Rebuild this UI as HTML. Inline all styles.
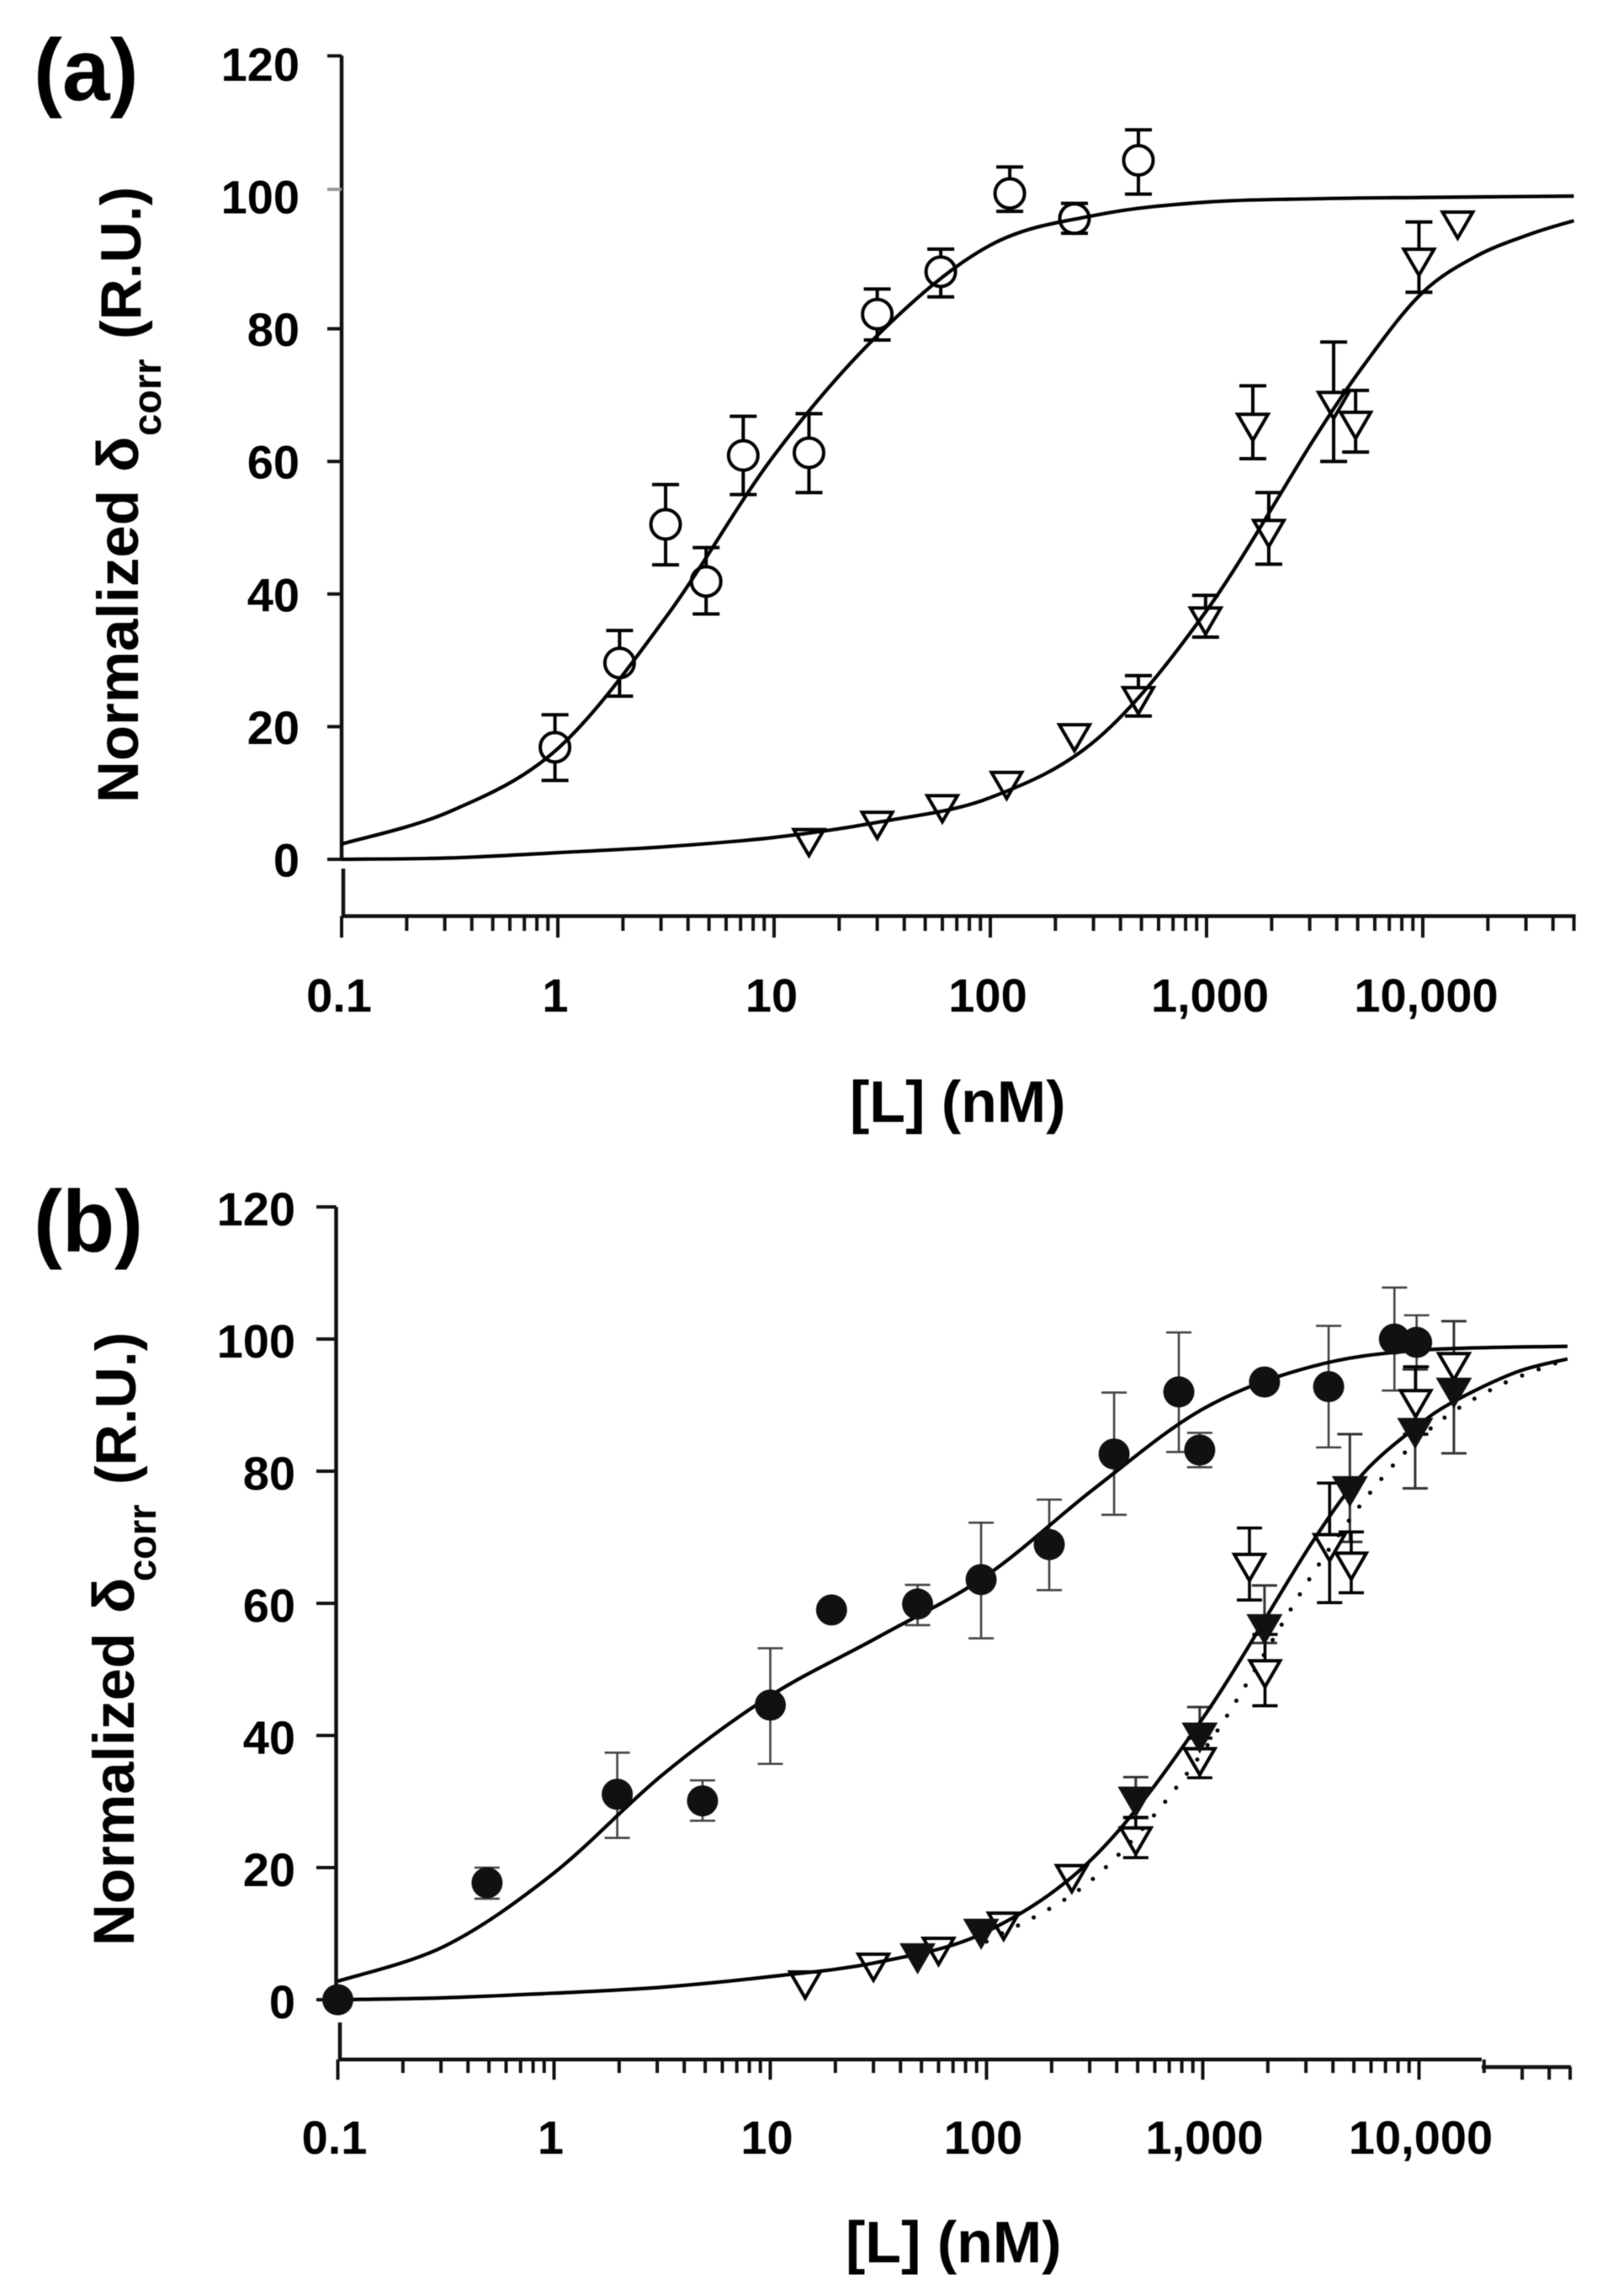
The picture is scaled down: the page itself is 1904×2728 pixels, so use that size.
<!DOCTYPE html>
<html lang="en">
<head>
<meta charset="utf-8">
<title>Normalized chemical shift binding curves</title>
<style>
html,body{margin:0;padding:0;background:#fff;}
svg{display:block;filter:blur(0.6px);}
text{font-family:"Liberation Sans",Arial,sans-serif;font-weight:700;fill:#000;}
</style>
</head>
<body>
<svg id="figure" xmlns="http://www.w3.org/2000/svg" width="1904" height="2728" viewBox="0 0 1904 2728">
<rect x="0" y="0" width="1904" height="2728" fill="#fff"/>
</svg>
<script>
// ---- shared axis data ----
const yTickValues = [120, 100, 80, 60, 40, 20, 0];
const xTickValues = [0.1, 1, 10, 100, 1000, 10000];
const xTickLabels = ['0.1', '1', '10', '100', '1,000', '10,000'];
const xMinorMultipliers = [2, 3, 4, 5, 6, 7, 8, 9];
const xMaxValue = 50000;

// ---- panel (a) data ----
const aCircleX = [0.97, 1.93, 3.15, 4.85, 7.2, 14.5, 30, 59, 123, 245, 484];
const aCircleY = [16.9, 29.6, 50.5, 41.9, 60.9, 61.3, 82.2, 88.6, 100.4, 96.6, 105.4];
const aCircleHi = [21.8, 34.5, 56.5, 47, 66.8, 67.2, 86, 92, 104.4, 98.9, 110];
const aCircleLo = [11.9, 24.6, 44.4, 37, 55, 55.3, 78.3, 84.8, 97.7, 94.4, 100.3];

const aTriX = [14.5, 30, 60, 119, 245, 484, 990, 1940, 1637, 3870, 4890, 9600, 14500];
const aTriY = [3.1, 5.7, 8.2, 11.7, 18.9, 24.5, 36.5, 49.7, 65.7, 69, 66, 90.6, 96.2];
const aTriHi = [null, null, null, null, null, 27.7, 39.8, 55.3, 71.4, 78, 70.7, 96.1, null];
const aTriLo = [null, null, null, null, null, 21.6, 33.5, 44.5, 60.4, 60, 61.4, 85.5, null];

const aFitOneX = [0.1, 0.316, 1, 3.16, 10, 31.6, 100, 316, 1000, 3160, 10000, 50000];
const aFitOneY = [2.3, 7.2, 16.7, 36.5, 60.9, 79.7, 92.6, 97.2, 99.1, 99.6, 99.8, 100];
const aFitTwoX = [0.1, 0.316, 1, 3.16, 10, 31.6, 100, 316, 1000, 3160, 5620, 10000, 17800, 31600, 50000];
const aFitTwoY = [0, 0.2, 1, 1.9, 3.3, 5.7, 9.3, 18.3, 37.5, 63.5, 75.5, 85.5, 91, 94.3, 96.3];

// ---- panel (b) data ----
const bCircleX = [0.1, 0.49, 1.96, 4.86, 10, 19.2, 48, 94.4, 195, 389, 775, 968, 1930, 3820, 7700, 9750];
const bCircleY = [0, 17.7, 31.1, 30.1, 44.6, 59, 59.9, 63.6, 68.9, 82.6, 92, 83.2, 93.5, 92.8, 100, 99.5];
const bCircleHi = [null, 20, 37.4, 33.2, 53.2, null, 62.8, 72.2, 75.7, 91.9, 101, 85.8, null, 102, 107.8, 103.6];
const bCircleLo = [null, 15.3, 24.5, 27.1, 35.7, null, 56.7, 54.7, 62, 73.4, 82.9, 80.6, null, 83.6, 92.2, 95.8];

const bFilledTriX = [48, 94.4, 490, 968, 1930, 4790, 9600, 14500];
const bFilledTriY = [6.9, 10.6, 30.6, 40.3, 56.7, 77.6, 86.4, 92.5];
const bFilledTriHi = [null, null, 33.7, 44.3, 62.7, 85.6, 95.4, 102.7];
const bFilledTriLo = [null, null, 27.5, 37.8, 54, 69.3, 77.4, 82.7];

const bOpenTriX = [14.5, 30, 60, 120, 248, 490, 968, 1940, 1644, 3860, 4860, 9650, 14500];
const bOpenTriY = [2.8, 5.5, 7.9, 11.7, 18.9, 24.6, 36.6, 49.9, 66, 69, 66.2, 90.8, 96.4];
const bOpenTriHi = [null, null, null, null, null, 27.6, 39.6, 55.3, 71.4, 78.2, 70.8, 95.8, null];
const bOpenTriLo = [null, null, null, null, null, 21.5, 33.6, 44.5, 60.5, 60.1, 61.6, 85.6, null];

const bFitOneX = [0.1, 0.316, 1, 3.16, 10, 31.6, 100, 316, 1000, 3160, 10000, 48600];
const bFitOneY = [2.8, 8.2, 19.2, 34, 46, 54.9, 64.2, 77.4, 89.4, 95.8, 98.3, 98.9];
const bFitTwoX = [0.1, 0.316, 1, 3.16, 10, 31.6, 100, 316, 1000, 3160, 5500, 9800, 14600, 28200, 48600];
const bFitTwoY = [0, 0.3, 1, 1.9, 3.5, 5.7, 10.3, 21.7, 42.6, 68.9, 79.6, 86.8, 90.6, 95, 97];
const bFitDotX = [100, 316, 1000, 3160, 6310, 11750, 23300, 46000];
const bFitDotY = [8.8, 18.5, 37.5, 64, 77.8, 86.9, 92.9, 96.7];

// ---- drawing helpers ----
const NS = 'http://www.w3.org/2000/svg';
const root = document.getElementById('figure');

function make(tag, attrs, parent) {
  const node = document.createElementNS(NS, tag);
  for (const k in attrs) node.setAttribute(k, attrs[k]);
  parent.appendChild(node);
  return node;
}
function makeXScale(x0, decade) {
  return function (v) { return x0 + decade * (Math.log10(v) + 1); };
}
function makeYScale(y0, perUnit) {
  return function (v) { return y0 - perUnit * v; };
}
function smoothPath(xs, ys, sx, sy) {
  const p = xs.map(function (v, i) { return [sx(v), sy(ys[i])]; });
  let d = 'M' + p[0][0].toFixed(1) + ' ' + p[0][1].toFixed(1);
  for (let i = 0; i < p.length - 1; i++) {
    const a = p[Math.max(i - 1, 0)], b = p[i], c = p[i + 1], e = p[Math.min(i + 2, p.length - 1)];
    const c1x = b[0] + (c[0] - a[0]) / 6, c1y = b[1] + (c[1] - a[1]) / 6;
    const c2x = c[0] - (e[0] - b[0]) / 6, c2y = c[1] - (e[1] - b[1]) / 6;
    d += 'C' + c1x.toFixed(1) + ' ' + c1y.toFixed(1) + ' ' + c2x.toFixed(1) + ' ' + c2y.toFixed(1) + ' ' + c[0].toFixed(1) + ' ' + c[1].toFixed(1);
  }
  return d;
}
function drawLabel(parent, str, x, y, size, anchor, squeeze, name) {
  const t = make('text', { transform: 'translate(' + x + ' ' + y + ') scale(' + squeeze + ' 1)', 'font-size': size, 'text-anchor': anchor }, parent);
  
  
  t.textContent = str;
  return t;
}
function drawRotated(parent, str, x, y, size, name) {
  const t = make('text', { transform: 'translate(' + x + ' ' + y + ') rotate(-90)', 'font-size': size }, parent);
  
  
  t.textContent = str;
  return t;
}
function drawFit(parent, xs, ys, sx, sy, extra, name) {
  const attrs = { d: smoothPath(xs, ys, sx, sy), fill: 'none', stroke: '#000', 'stroke-width': 4.2 };
  for (const k in extra) attrs[k] = extra[k];
  const path = make('path', attrs, parent);
  
  
}
function drawErrors(parent, xs, hi, lo, sx, sy, color, width, capHalf, name) {
  xs.forEach(function (v, i) {
    if (hi[i] === null) return;
    const g = make('g', { stroke: color, 'stroke-width': width, fill: 'none' }, parent);
    
    
    const X = sx(v);
    make('path', { d: 'M' + X + ' ' + sy(hi[i]) + 'V' + sy(lo[i]) }, g);
    make('path', { d: 'M' + (X - capHalf) + ' ' + sy(hi[i]) + 'H' + (X + capHalf) }, g);
    make('path', { d: 'M' + (X - capHalf) + ' ' + sy(lo[i]) + 'H' + (X + capHalf) }, g);
  });
}
function drawCircles(parent, xs, ys, sx, sy, filled, name) {
  xs.forEach(function (v, i) {
    const c = make('circle', {
      cx: sx(v), cy: sy(ys[i]), r: filled ? 18.5 : 17.5,
      fill: filled ? '#111' : '#fff', stroke: filled ? 'none' : '#000', 'stroke-width': 4
    }, parent);
    
    
  });
}
function drawTriangles(parent, xs, ys, sx, sy, filled, name) {
  xs.forEach(function (v, i) {
    const X = sx(v), Y = sy(ys[i]);
    const t = make('path', {
      d: 'M' + (X - 18) + ' ' + (Y - 11) + 'H' + (X + 18) + 'L' + X + ' ' + (Y + 20) + 'Z',
      fill: filled ? '#111' : '#fff', stroke: filled ? '#111' : '#000', 'stroke-width': 4, 'stroke-linejoin': 'miter'
    }, parent);
    
    
  });
}
function drawXTicks(parent, sx, axisY, minorEnd, majorEnd, stepFrom, stepDrop) {
  const ticks = [];
  xTickValues.forEach(function (dec) {
    ticks.push([dec, true]);
    xMinorMultipliers.forEach(function (m) {
      if (dec * m <= xMaxValue) ticks.push([dec * m, false]);
    });
  });
  ticks.forEach(function (t) {
    const shifted = stepFrom && t[0] > stepFrom;
    const top = axisY + (shifted ? stepDrop : 0);
    const end = shifted ? majorEnd : (t[1] ? majorEnd : minorEnd);
    const tick = make('line', { x1: sx(t[0]), x2: sx(t[0]), y1: top, y2: end, stroke: '#111', 'stroke-width': 4 }, parent);
    
    
  });
}

// ---- panel (a) ----
const panelA = make('g', {}, root);


const ax = makeXScale(406, 257);
const ay = makeYScale(1021, 7.88);

const aLetter = drawLabel(panelA, '(a)', 40, 119, 104, 'start', 0.98, 'panel-a-label');

const aAxisY = make('path', { d: 'M406 66V1021M408 1032V1090', stroke: '#111', 'stroke-width': 4.5, fill: 'none' }, panelA);


const aAxisX = make('line', { x1: 406, x2: ax(xMaxValue) + 2, y1: 1088.5, y2: 1088.5, stroke: '#111', 'stroke-width': 4.5 }, panelA);



yTickValues.forEach(function (v) {
  const shift = v === 120 ? -9 : (v === 100 ? -8 : 0);
  const tick = make('line', { x1: 389, x2: 406, y1: ay(v) + shift, y2: ay(v) + shift, stroke: v === 100 ? '#999' : '#111', 'stroke-width': 4 }, panelA);
  
  
  drawLabel(panelA, String(v), 356, ay(v) + 20.5, 56, 'end', 1, 'y-tick-label');
});
drawXTicks(panelA, ax, 1088.5, 1106, 1114, null, 0);
xTickValues.forEach(function (v, i) {
  const nudge = xTickLabels[i].indexOf(',') >= 0 ? 4 : -3;
  drawLabel(panelA, xTickLabels[i], ax(v) + nudge, 1202, 56, 'middle', 1, 'x-tick-label');
});
drawLabel(panelA, '[L] (nM)', 1010, 1333, 70, 'start', 1, 'x-axis-title');

const aTitle = make('g', {}, panelA);


drawRotated(aTitle, 'Normalized', 164, 954, 69, 'y-title-word');
drawRotated(aTitle, 'δ', 164, 561, 70, 'y-title-delta');
drawRotated(aTitle, 'corr', 191, 518, 47, 'y-title-subscript');
drawRotated(aTitle, '(R.U.)', 167, 403, 68, 'y-title-units');

drawErrors(panelA, aCircleX, aCircleHi, aCircleLo, ax, ay, '#000', 4, 16, 'circle-error-bar');
drawErrors(panelA, aTriX, aTriHi, aTriLo, ax, ay, '#000', 4, 16, 'triangle-error-bar');
drawCircles(panelA, aCircleX, aCircleY, ax, ay, false, 'open-circle-point');
drawTriangles(panelA, aTriX, aTriY, ax, ay, false, 'open-triangle-point');
drawFit(panelA, aFitOneX, aFitOneY, ax, ay, {}, 'circle-fit-curve');
drawFit(panelA, aFitTwoX, aFitTwoY, ax, ay, {}, 'triangle-fit-curve');

// ---- panel (b) ----
const panelB = make('g', {}, root);


const bx = makeXScale(401.5, 257);
const by = makeYScale(2376, 7.85);

drawLabel(panelB, '(b)', 40, 1487, 104, 'start', 0.98, 'panel-b-label');

const bAxisY = make('path', { d: 'M399.5 1434V2376M404 2403V2449', stroke: '#111', 'stroke-width': 4.5, fill: 'none' }, panelB);


const bAxisX = make('path', { d: 'M402 2447H1761M1761 2456H' + (bx(xMaxValue) + 1), stroke: '#111', 'stroke-width': 4.5, fill: 'none' }, panelB);



yTickValues.forEach(function (v) {
  const tick = make('line', { x1: 376, x2: 399.5, y1: by(v), y2: by(v), stroke: '#111', 'stroke-width': 4 }, panelB);
  
  
  drawLabel(panelB, String(v), 351, by(v) + 22, 56, 'end', 1, 'y-tick-label');
});
drawXTicks(panelB, bx, 2447, 2463, 2471, 20000, 9);
xTickValues.forEach(function (v, i) {
  const nudge = xTickLabels[i].indexOf(',') >= 0 ? 2 : -4;
  drawLabel(panelB, xTickLabels[i], bx(v) + nudge, 2559, 56, 'middle', 1, 'x-tick-label');
});
drawLabel(panelB, '[L] (nM)', 1005, 2688, 70, 'start', 1, 'x-axis-title');

const bTitle = make('g', {}, panelB);


drawRotated(bTitle, 'Normalized', 159, 2312, 69, 'y-title-word');
drawRotated(bTitle, 'δ', 159, 1917, 70, 'y-title-delta');
drawRotated(bTitle, 'corr', 185, 1879, 47, 'y-title-subscript');
drawRotated(bTitle, '(R.U.)', 161, 1764, 68, 'y-title-units');

drawErrors(panelB, bCircleX, bCircleHi, bCircleLo, bx, by, '#444', 2.6, 15, 'filled-circle-error-bar');
drawErrors(panelB, bFilledTriX, bFilledTriHi, bFilledTriLo, bx, by, '#333', 3, 15, 'filled-triangle-error-bar');
drawErrors(panelB, bOpenTriX, bOpenTriHi, bOpenTriLo, bx, by, '#000', 3.6, 15, 'open-triangle-error-bar');
drawTriangles(panelB, bOpenTriX, bOpenTriY, bx, by, false, 'open-triangle-point');
drawFit(panelB, bFitDotX, bFitDotY, bx, by, { 'stroke-width': 5, 'stroke-dasharray': '0 21', 'stroke-linecap': 'round' }, 'open-triangle-dotted-fit');
drawFit(panelB, bFitOneX, bFitOneY, bx, by, {}, 'filled-circle-fit-curve');
drawFit(panelB, bFitTwoX, bFitTwoY, bx, by, {}, 'filled-triangle-fit-curve');
drawTriangles(panelB, bFilledTriX, bFilledTriY, bx, by, true, 'filled-triangle-point');
drawCircles(panelB, bCircleX, bCircleY, bx, by, true, 'filled-circle-point');
</script>
</body>
</html>
